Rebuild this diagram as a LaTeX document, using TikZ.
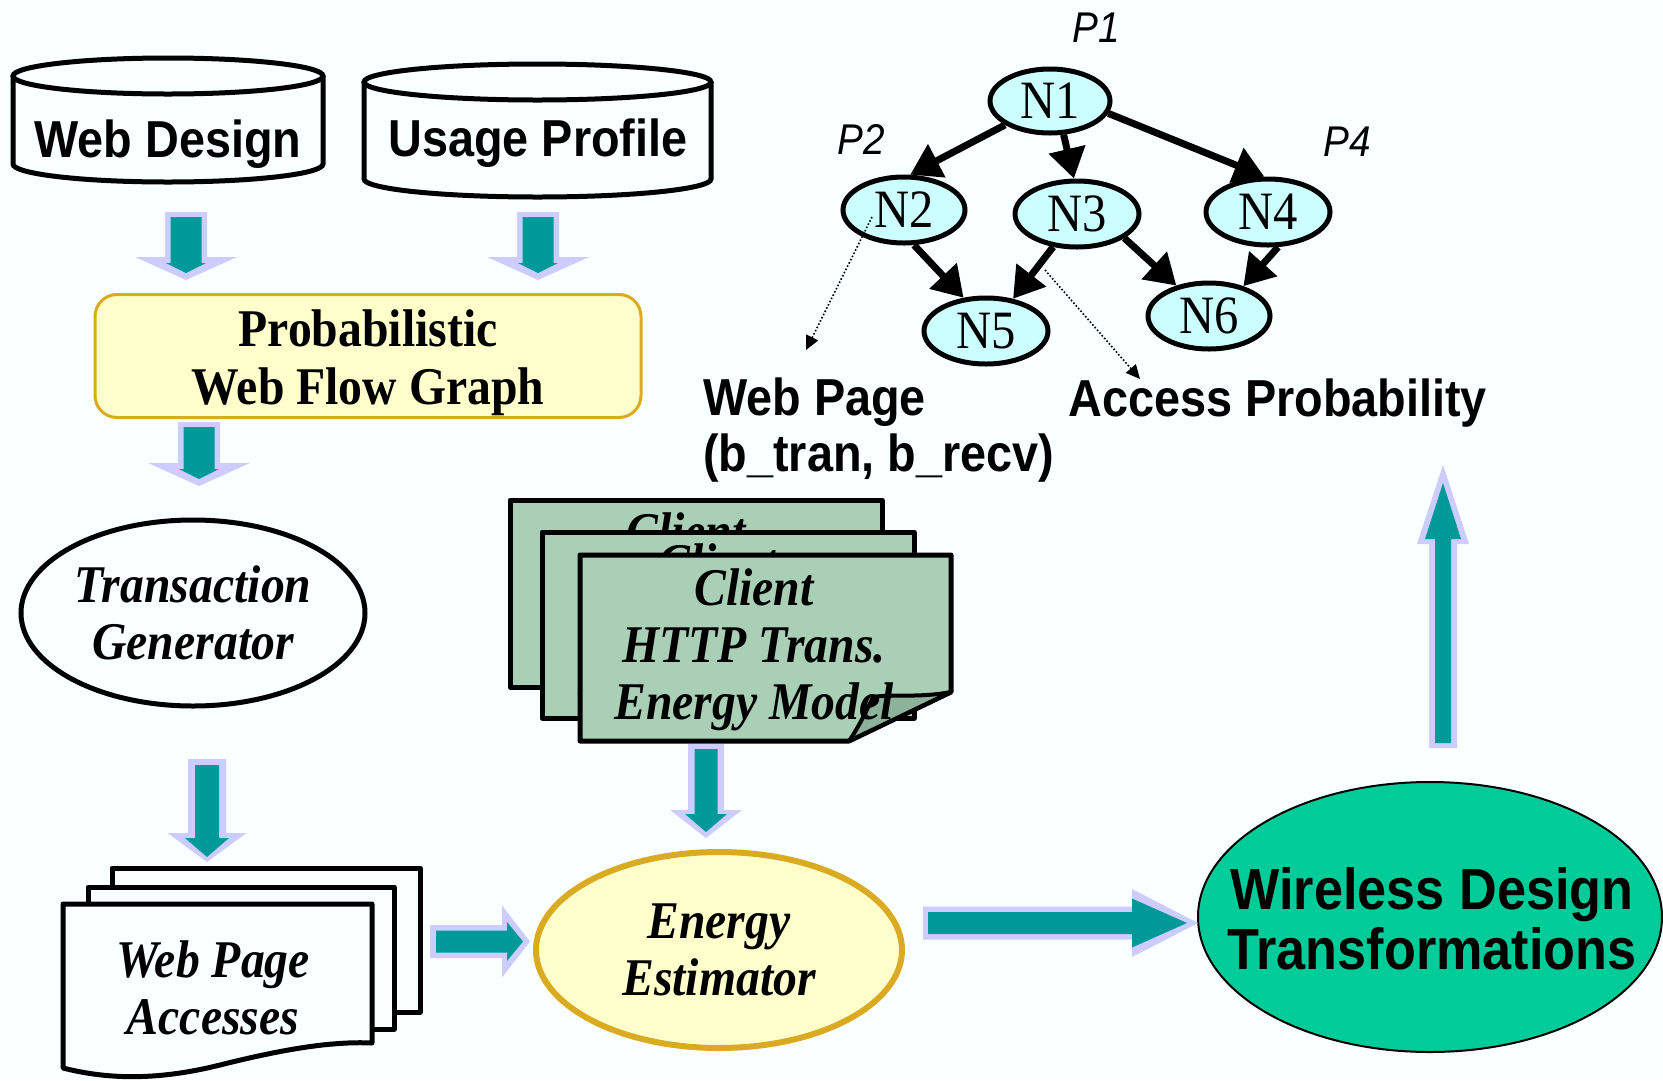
\documentclass[tikz,border=0pt]{standalone}
\usepackage{fontspec}
\setmainfont{Liberation Serif}
\newfontfamily\ser[FakeStretch=0.9]{Liberation Serif}
\newfontfamily\san[FakeStretch=0.9]{Liberation Sans}
\usetikzlibrary{shapes.geometric,arrows.meta,calc}
\definecolor{bgc}{RGB}{250,255,255}
\definecolor{arrteal}{RGB}{0,153,153}
\definecolor{arrlav}{RGB}{204,204,255}
\definecolor{paley}{RGB}{255,255,204}
\definecolor{goldb}{RGB}{218,170,32}
\definecolor{ncyan}{RGB}{204,255,255}
\definecolor{docg}{RGB}{169,207,183}
\definecolor{docgd}{RGB}{140,178,156}
\definecolor{wgreen}{RGB}{0,204,153}
\tikzset{
 sanlab/.style={font=\san\bfseries\fontsize{52}{56}\selectfont, inner sep=0pt},
 serb/.style={font=\ser\bfseries\fontsize{53}{58}\selectfont, align=center},
 serbi/.style={font=\ser\bfseries\itshape\fontsize{53}{57}\selectfont, align=center},
 gnode/.style={ellipse, draw=black, line width=5pt, fill=ncyan, inner sep=0pt, font=\ser\fontsize{54}{54}\selectfont},
 gedge/.style={line width=7pt, -{Triangle[length=30pt,width=36pt]}},
 plab/.style={font=\san\itshape\fontsize{43}{43}\selectfont},
 dotarr/.style={dotted, line width=1.6pt, -{Triangle[length=14pt,width=13pt]}},
 cylst/.style={line width=5pt},
 docst/.style={line width=5pt, draw=black, line join=round},
}
\def\splitins#1/#2\relax{\def\insS{#1}\def\insT{#2}}
% #1 start, #2 end, #3-#5 outer shaft half/head half/head length,
% #6-#8 inner shaft half/head half/head length, #9 inner insets start/tip
\newcommand\blockarrow[9]{%
  \splitins#9\relax
  \path let \p1=#1, \p2=#2, \n1={atan2(\y2-\y1,\x2-\x1)}, \n2={veclen(\x2-\x1,\y2-\y1)} in
    \pgfextra{\xdef\bax{\x1}\xdef\bay{\y1}\xdef\bang{\n1}\xdef\blen{\n2}};
  \fill[arrlav, shift={(\bax,\bay)}, rotate=\bang]
    (0pt,-#3pt) -- ({\blen-#5pt},-#3pt) -- ({\blen-#5pt},-#4pt) -- ({\blen},0pt)
    -- ({\blen-#5pt},#4pt) -- ({\blen-#5pt},#3pt) -- (0pt,#3pt) -- cycle;
  \fill[arrteal, shift={(\bax,\bay)}, rotate=\bang]
    (\insS pt,-#6pt) -- ({\blen-\insT pt-#8pt},-#6pt) -- ({\blen-\insT pt-#8pt},-#7pt) -- ({\blen-\insT pt},0pt)
    -- ({\blen-\insT pt-#8pt},#7pt) -- ({\blen-\insT pt-#8pt},#6pt) -- (\insS pt,#6pt) -- cycle;
}
\begin{document}
\begin{tikzpicture}[x=1pt,y=-1pt]
\useasboundingbox (0,0) rectangle (1663,1080);
\fill[bgc] (0,0) rectangle (1663,1080);

% cylinders
\draw[cylst] (13,76) -- (13,164) arc[start angle=180, end angle=0, x radius=155, y radius=18] -- (323,76);
\draw[cylst] (168,76) ellipse [x radius=155, y radius=18];
\node[sanlab] (wd) at (168,144) {Web Design};
\draw[cylst] (364,82) -- (364,179) arc[start angle=180, end angle=0, x radius=173.5, y radius=18] -- (711,82);
\draw[cylst] (537.5,82) ellipse [x radius=173.5, y radius=18];
\node[sanlab] (up) at (538,143) {Usage Profile};

% probabilistic web flow graph
\node[draw=goldb, fill=paley, line width=3pt, rounded corners=22pt,
      minimum width=546pt, minimum height=123pt] (pb) at (368,356) {};
\node[serb] (pbt) at (368,363) {Probabilistic\\Web Flow Graph};

% transaction generator
\node[serbi, ellipse, draw=black, line width=5pt, minimum width=344pt, minimum height=186pt, inner sep=0pt]
   (tg) at (193,613) {Transaction\\Generator};

% web page accesses documents
\draw[docst, fill=bgc] (112,868) rectangle (420,1012);
\draw[docst, fill=bgc] (88,887) rectangle (394,1029);
\draw[docst, fill=bgc] (63,904) -- (372,904) -- (372,1043)
   .. controls (330,1041) and (280,1050) .. (220,1065)
   .. controls (160,1080) and (110,1080) .. (63,1068) -- cycle;
\node[serbi] (wpa) at (213,988) {Web Page\\Accesses};

% client documents
\draw[docst, fill=docg] (510,500) rectangle (882,687);
\node[serbi] (cl1) at (686,594) {Client\\HTTP Trans.\\Energy Model};
\draw[docst, fill=docg] (542,532) rectangle (914,718);
\node[serbi] (cl2) at (718,625) {Client\\HTTP Trans.\\Energy Model};
\draw[docst, fill=docg] (580,555) -- (951,555) -- (951,692) -- (849,741) -- (580,741) -- cycle;
\draw[line width=4pt, line join=round, fill=docgd] (951,692) .. controls (920,698) and (890,694) .. (873,697)
   .. controls (866,712) and (858,728) .. (849,741) -- cycle;
\node[serbi] (cl3) at (754,650) {Client\\HTTP Trans.\\Energy Model};

% energy estimator
\node[serbi, ellipse, draw=goldb, fill=paley, line width=6pt, minimum width=366pt, minimum height=196pt, inner sep=0pt]
   (ee) at (719,950) {Energy\\Estimator};

% wireless design transformations
\node[ellipse, draw=black, fill=wgreen, line width=2pt, minimum width=464pt, minimum height=270pt, inner sep=0pt]
   (wdt) at (1430,917) {};
\node[font=\san\bfseries\fontsize{58}{60}\selectfont, align=center, inner sep=0pt]
   (wdtx) at (1432,919) {Wireless Design\\Transformations};

% graph
\node[gnode, minimum width=120pt, minimum height=64pt] (n1) at (1050,101) {N1};
\node[gnode, minimum width=122pt, minimum height=66pt] (n2) at (904,210) {N2};
\node[gnode, minimum width=124pt, minimum height=66pt] (n3) at (1077,214) {N3};
\node[gnode, minimum width=124pt, minimum height=66pt] (n4) at (1268,212) {N4};
\node[gnode, minimum width=124pt, minimum height=66pt] (n5) at (986,331) {N5};
\node[gnode, minimum width=122pt, minimum height=66pt] (n6) at (1209,316) {N6};
\draw[gedge] (n1.208) -- (n2.80);
\draw[gedge] (n1.292) -- (n3.95);
\draw[gedge] (n1.348) -- (n4.96);
\draw[gedge] (n2.286) -- (n5.124);
\draw[gedge] (n3.234) -- (n5.50);
\draw[gedge] (n3.333) -- (n6.137);
\draw[gedge] (n4.286) -- (n6.41);
\node[plab] (p1) at (1096,28) {P1};
\node[plab] (p2) at (861,139) {P2};
\node[plab] (p4) at (1347,142) {P4};

\node[sanlab, anchor=west, align=left] (wpl) at (703,430) {Web Page\\(b\_tran, b\_recv)};
\node[sanlab, anchor=west] (apl) at (1068,403) {Access Probability};
\coordinate (d1e) at (806,350);
\coordinate (d2s) at (1045,270);
\coordinate (d2e) at (1140,379);
\draw[dotarr] ($(n2)+(-32,7)$) -- (d1e);
\draw[dotarr] (d2s) -- (d2e);

% block arrows
\blockarrow{($(wd)+(18,68)$)}{($(pb)+(-182,-76)$)}{21}{51}{23}{15.5}{20}{10}{5/7}
\blockarrow{($(up)+(0,69)$)}{($(pb)+(170,-76)$)}{21}{51}{23}{15.5}{20}{10}{5/7}
\blockarrow{($(pb)+(-169,66)$)}{($(tg)+(6,-127)$)}{21}{51}{23}{15.5}{20}{10}{5/7}
\blockarrow{($(tg)+(14,146)$)}{($(wpa)+(-6,-126)$)}{19}{39.5}{29}{12}{22}{19}{6/5}
\blockarrow{($(cl3)+(-48,94)$)}{($(ee)+(-13,-112)$)}{18}{36}{28}{11.5}{21}{18}{5/6}
\blockarrow{($(wpa)+(217,-46.5)$)}{($(ee)+(-189,-8.5)$)}{16.5}{36}{28}{11}{19.5}{16}{6/7}
\blockarrow{($(ee)+(204,-27)$)}{($(wdt)+(-232,6)$)}{16.5}{34}{66}{11}{24.5}{55}{5/11}
\blockarrow{($(wdt)+(13,-169)$)}{($(n4)+(175,253)$)}{14}{26}{79}{8}{18}{56}{5/18}
\end{tikzpicture}
\end{document}
